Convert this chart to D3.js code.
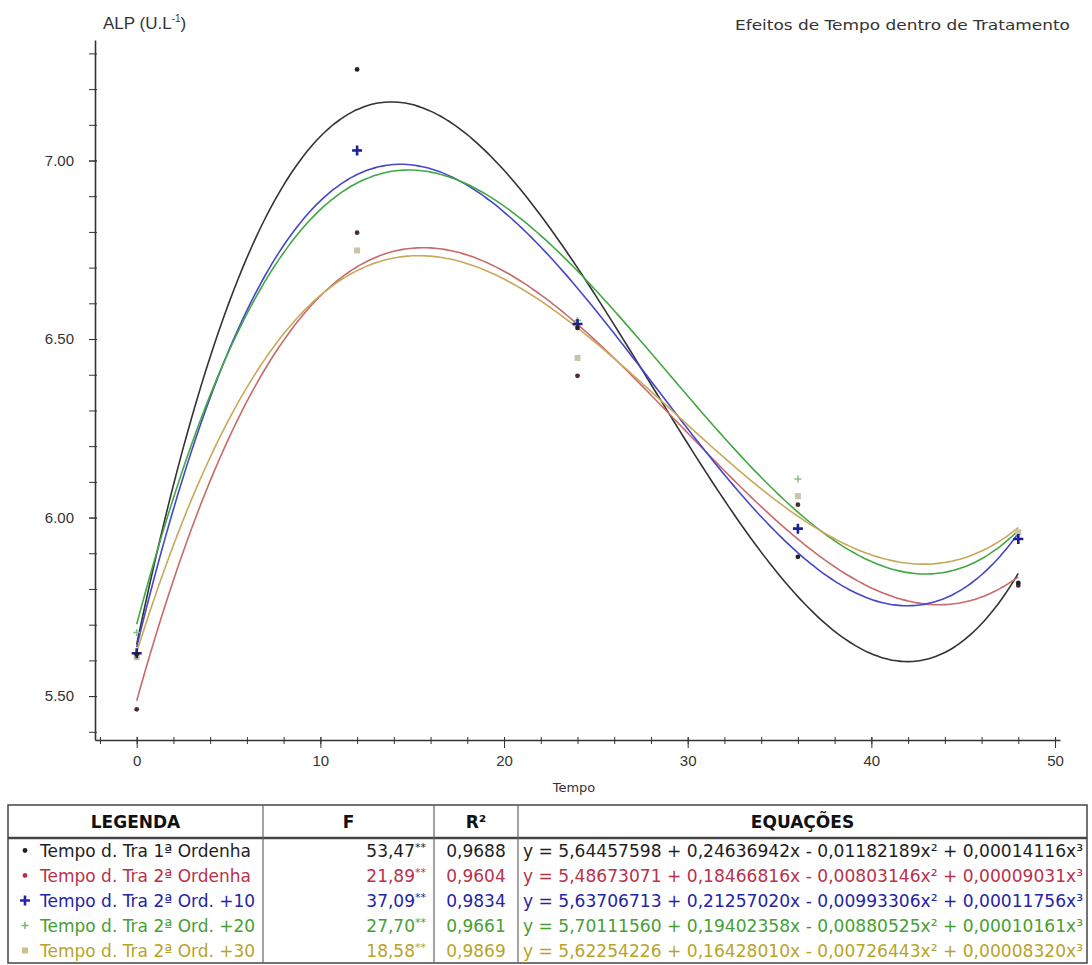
<!DOCTYPE html>
<html>
<head>
<meta charset="utf-8">
<script src="https://cdn.jsdelivr.net/npm/d3@7/dist/d3.min.js"></script>
<style>
  body { margin: 0; background: #fff; }
  svg { display: block; }
</style>
</head>
<body>
<div id="chart"></div>
<script>
// time points (x) and observed means for each treatment
var tempos = [0, 12, 24, 36, 48];

var ordenha1 = [5.617, 7.255, 6.531, 5.890, 5.817];
var ordenha2 = [5.463, 6.798, 6.397, 6.036, 5.810];
var ord2mais10 = [5.620, 7.028, 6.542, 5.969, 5.940];
var ord2mais20 = [5.678, 7.030, 6.552, 6.108, 5.941];
var ord2mais30 = [5.609, 6.748, 6.447, 6.060, 5.959];

// cubic regression coefficients (b0, b1, b2, b3) as printed in the table
var coef1 = [5.64457598, 0.24636942, -0.01182189, 0.00014116];
var coef2 = [5.48673071, 0.18466816, -0.00803146, 0.00009031];
var coef3 = [5.63706713, 0.21257020, -0.00993306, 0.00011756];
var coef4 = [5.70111560, 0.19402358, -0.00880525, 0.00010161];
var coef5 = [5.62254226, 0.16428010, -0.00726443, 0.00008320];

var legendas = ["Tempo d. Tra 1ª Ordenha", "Tempo d. Tra 2ª Ordenha", "Tempo d. Tra 2ª Ord. +10",
                "Tempo d. Tra 2ª Ord. +20", "Tempo d. Tra 2ª Ord. +30"];
var fValues = ["53,47", "21,89", "37,09", "27,70", "18,58"];
var r2Values = ["0,9688", "0,9604", "0,9834", "0,9661", "0,9869"];
var equacoes = [
  "y = 5,64457598 + 0,24636942x - 0,01182189x² + 0,00014116x³",
  "y = 5,48673071 + 0,18466816x - 0,00803146x² + 0,00009031x³",
  "y = 5,63706713 + 0,21257020x - 0,00993306x² + 0,00011756x³",
  "y = 5,70111560 + 0,19402358x - 0,00880525x² + 0,00010161x³",
  "y = 5,62254226 + 0,16428010x - 0,00726443x² + 0,00008320x³"
];

var xMajor = [0, 10, 20, 30, 40, 50];
var xMinor = [-2, 0, 2, 4, 6, 8, 10, 12, 14, 16, 18, 20, 22, 24, 26, 28, 30, 32, 34, 36, 38, 40, 42, 44, 46, 48, 50];
var yMajor = [5.5, 6.0, 6.5, 7.0];
var yMinor = [5.4, 5.5, 5.6, 5.7, 5.8, 5.9, 6.0, 6.1, 6.2, 6.3, 6.4, 6.5, 6.6, 6.7, 6.8, 6.9, 7.0, 7.1, 7.2, 7.3];

// series styling
var series = [
  { values: ordenha1, coef: coef1, line: "#333333", text: "#1e1e1e", mark: "dot", markColor: "#222222", legMark: "#222222" },
  { values: ordenha2, coef: coef2, line: "#c96a6a", text: "#b8324a", mark: "dot", markColor: "#4a2e2e", legMark: "#b8324a" },
  { values: ord2mais10, coef: coef3, line: "#4646cc", text: "#2424a8", mark: "plus", markColor: "#1e1e96", legMark: "#2424a8" },
  { values: ord2mais20, coef: coef4, line: "#42a842", text: "#46a032", mark: "smallplus", markColor: "#8cc08c", legMark: "#7cbc6c" },
  { values: ord2mais30, coef: coef5, line: "#c9a85a", text: "#b8a428", mark: "square", markColor: "#c9c3aa", legMark: "#c9c08a" }
];

var svgWidth = 1092;
var svgHeight = 965;

var svg = d3.select("#chart")
  .append("svg")
  .attr("width", svgWidth)
  .attr("height", svgHeight)
  .style("font-family", "'Liberation Sans', Arial, sans-serif");

svg.append("rect").attr("width", svgWidth).attr("height", svgHeight).attr("fill", "#fff");

// scales
var xScale = d3.scaleLinear().domain([-2.27, 50.27]).range([95, 1060]);
var yScale = d3.scaleLinear().domain([5.377, 7.3375]).range([740, 40]);

// x axis: minor ticks then labelled major ticks
var xMinorAxis = svg.append("g")
  .attr("transform", "translate(0,740)")
  .call(d3.axisBottom(xScale).tickValues(xMinor).tickSize(4).tickSizeOuter(0).tickFormat(""));
xMinorAxis.selectAll(".tick line").attr("y1", -3).attr("stroke", "#333");
xMinorAxis.select(".domain").attr("stroke", "#333").attr("stroke-width", 1.6);

var xMajorAxis = svg.append("g")
  .attr("transform", "translate(0,740)")
  .call(d3.axisBottom(xScale).tickValues(xMajor).tickSize(8).tickSizeOuter(0).tickPadding(7).tickFormat(d3.format("d")));
xMajorAxis.select(".domain").remove();
xMajorAxis.selectAll(".tick line").attr("y1", -3).attr("stroke", "#333");
xMajorAxis.selectAll("text").attr("font-size", 15).attr("fill", "#333").attr("font-family", "'Liberation Sans', Arial, sans-serif");

// y axis
var yMinorAxis = svg.append("g")
  .attr("transform", "translate(95,0)")
  .call(d3.axisLeft(yScale).tickValues(yMinor).tickSize(6).tickSizeOuter(0).tickFormat(""));
yMinorAxis.selectAll(".tick line").attr("x1", 2).attr("stroke", "#333");
yMinorAxis.select(".domain").attr("stroke", "#333").attr("stroke-width", 1.6);

var yMajorAxis = svg.append("g")
  .attr("transform", "translate(95,0)")
  .call(d3.axisLeft(yScale).tickValues(yMajor).tickSize(6).tickSizeOuter(0).tickPadding(15).tickFormat(d3.format(".2f")));
yMajorAxis.select(".domain").remove();
yMajorAxis.selectAll(".tick line").attr("x1", 2).attr("stroke", "#333");
yMajorAxis.selectAll("text").attr("font-size", 15).attr("fill", "#333").attr("font-family", "'Liberation Sans', Arial, sans-serif");

// titles
var yTitle = svg.append("text")
  .attr("x", 103)
  .attr("y", 29)
  .attr("font-size", 17)
  .attr("fill", "#333");
yTitle.append("tspan").text("ALP (U.L");
yTitle.append("tspan").attr("font-size", 10).attr("dy", -7).text("-1");
yTitle.append("tspan").attr("dy", 7).text(")");

svg.append("text")
  .attr("x", 735)
  .attr("y", 30)
  .attr("font-size", 14)
  .attr("font-family", "'DejaVu Sans', Verdana, sans-serif")
  .attr("textLength", 335)
  .attr("lengthAdjust", "spacingAndGlyphs")
  .attr("fill", "#333")
  .text("Efeitos de Tempo dentro de Tratamento");

svg.append("text")
  .attr("x", 574)
  .attr("y", 792)
  .attr("text-anchor", "middle")
  .attr("font-size", 13)
  .attr("font-family", "'DejaVu Sans', Verdana, sans-serif")
  .attr("fill", "#333")
  .text("Tempo");

// fitted cubic curves from the printed coefficients
var grid = d3.range(0, 48.01, 0.25);
var line = d3.line()
  .x(function(d) { return xScale(d[0]); })
  .y(function(d) { return yScale(d[1]); })
  .curve(d3.curveMonotoneX);

function cubic(c, t) {
  return c[0] + c[1] * t + c[2] * t * t + c[3] * t * t * t;
}

var curveGroup = svg.append("g");
series.forEach(function(s) {
  curveGroup.append("path")
    .datum(grid.map(function(t) { return [t, cubic(s.coef, t)]; }))
    .attr("d", line)
    .attr("fill", "none")
    .attr("stroke", s.line)
    .attr("stroke-width", 1.6);
});

// markers
function drawMarker(g, kind, color, cx, cy) {
  if (kind === "dot") {
    g.append("circle").attr("cx", cx).attr("cy", cy).attr("r", 2.4).attr("fill", color);
  } else if (kind === "plus") {
    g.append("path")
      .attr("d", "M" + (cx - 5) + "," + cy + "H" + (cx + 5) + "M" + cx + "," + (cy - 5) + "V" + (cy + 5))
      .attr("stroke", color).attr("stroke-width", 2.6);
  } else if (kind === "smallplus") {
    g.append("path")
      .attr("d", "M" + (cx - 3.5) + "," + cy + "H" + (cx + 3.5) + "M" + cx + "," + (cy - 3.5) + "V" + (cy + 3.5))
      .attr("stroke", color).attr("stroke-width", 1.6);
  } else {
    g.append("rect").attr("x", cx - 3).attr("y", cy - 3).attr("width", 6).attr("height", 6).attr("fill", color);
  }
}

var pointGroup = svg.append("g");
series.slice().reverse().forEach(function(s) {
  s.values.forEach(function(v, i) {
    drawMarker(pointGroup, s.mark, s.markColor, xScale(tempos[i]), yScale(v));
  });
});

// legend table
var table = svg.append("g").style("font-family", "'DejaVu Sans', Verdana, sans-serif");
var tLeft = 8, tRight = 1087, tTop = 805, headH = 33, rowH = 25;
var cols = [tLeft, 263, 434, 518, tRight];
var tBottom = tTop + headH + rowH * 5;

table.append("rect")
  .attr("x", tLeft).attr("y", tTop)
  .attr("width", tRight - tLeft).attr("height", tBottom - tTop)
  .attr("fill", "none").attr("stroke", "#444").attr("stroke-width", 1.5);

table.append("line")
  .attr("x1", tLeft).attr("x2", tRight)
  .attr("y1", tTop + headH).attr("y2", tTop + headH)
  .attr("stroke", "#444").attr("stroke-width", 2.5);

cols.slice(1, 4).forEach(function(cx) {
  table.append("line")
    .attr("x1", cx).attr("x2", cx)
    .attr("y1", tTop).attr("y2", tBottom)
    .attr("stroke", "#666").attr("stroke-width", 1.2);
});

var headers = ["LEGENDA", "F", "R²", "EQUAÇÕES"];
headers.forEach(function(h, i) {
  table.append("text")
    .attr("x", (cols[i] + cols[i + 1]) / 2)
    .attr("y", tTop + headH / 2 + 6)
    .attr("text-anchor", "middle")
    .attr("font-size", 17)
    .attr("font-weight", "bold")
    .attr("fill", "#111")
    .text(h);
});

series.forEach(function(s, i) {
  var cy = tTop + headH + rowH * i + rowH / 2;
  drawMarker(table, s.mark, s.legMark, 25, cy);

  table.append("text")
    .attr("x", 40).attr("y", cy + 6)
    .attr("font-size", 17)
    .attr("fill", s.text)
    .text(legendas[i]);

  var f = table.append("text")
    .attr("x", 426).attr("y", cy + 6)
    .attr("text-anchor", "end")
    .attr("font-size", 17)
    .attr("fill", s.text);
  f.append("tspan").text(fValues[i]);
  f.append("tspan").attr("font-size", 11).attr("dy", -6).text("**");

  table.append("text")
    .attr("x", (cols[2] + cols[3]) / 2).attr("y", cy + 6)
    .attr("text-anchor", "middle")
    .attr("font-size", 17)
    .attr("fill", s.text)
    .text(r2Values[i]);

  table.append("text")
    .attr("x", 523).attr("y", cy + 6)
    .attr("font-size", 17)
    .attr("textLength", 560)
    .attr("lengthAdjust", "spacingAndGlyphs")
    .attr("fill", s.text)
    .text(equacoes[i]);
});
</script>
</body>
</html>
